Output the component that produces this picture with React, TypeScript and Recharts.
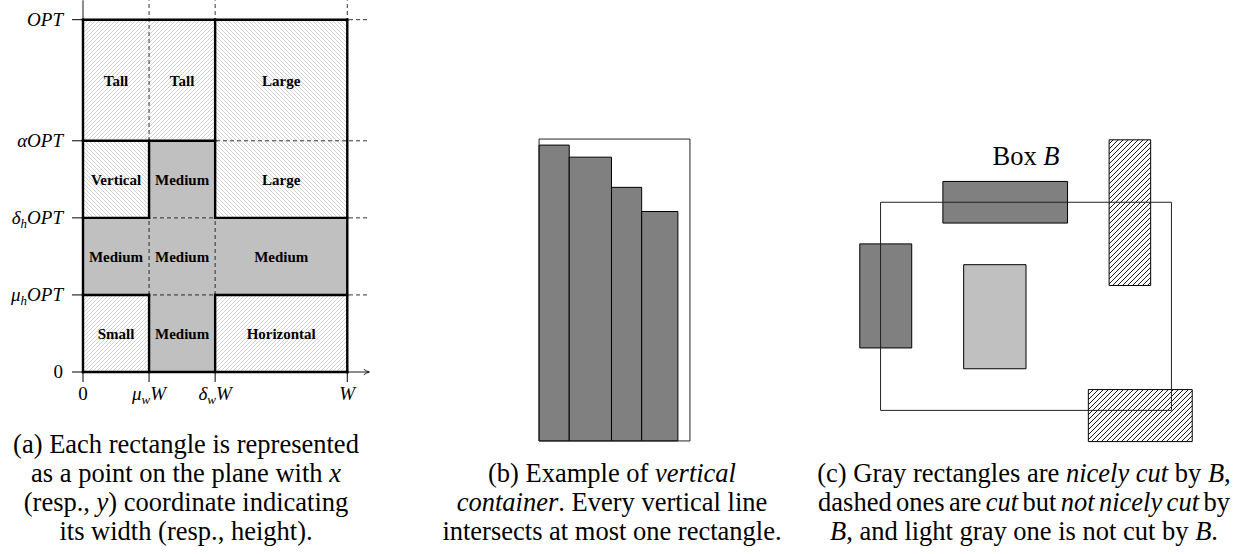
import React from "react";
import {
  ComposedChart,
  XAxis,
  YAxis,
  ReferenceArea,
  ReferenceLine,
  ReferenceDot,
} from "recharts";

const FONT = '"Liberation Serif", "Times New Roman", Times, serif';

// (a) widths on x, heights on y
const xTickValues = [0, 1.5, 3, 6];
const xTickLabels = [
  { main: "0", upright: true },
  { main: "μ", sub: "w", tail: "W" },
  { main: "δ", sub: "w", tail: "W" },
  { main: "W" },
];
const yTickValues = [0, 1.75, 3.5, 5.25, 8];
const yTickLabels = [
  { main: "0", upright: true },
  { main: "μ", sub: "h", tail: "OPT" },
  { main: "δ", sub: "h", tail: "OPT" },
  { main: "αOPT" },
  { main: "OPT" },
];

const HATCH_FWD = "url(#hatchFwd)";
const HATCH_BACK = "url(#hatchBack)";
const MEDIUM = "#c0c0c0";

const planeCells = [
  { name: "Tall", x1: 0, x2: 1.5, y1: 5.25, y2: 8, fill: HATCH_FWD },
  { name: "Tall", x1: 1.5, x2: 3, y1: 5.25, y2: 8, fill: HATCH_FWD },
  { name: "Large", x1: 3, x2: 6, y1: 5.25, y2: 8, fill: HATCH_BACK },
  { name: "Vertical", x1: 0, x2: 1.5, y1: 3.5, y2: 5.25, fill: HATCH_BACK },
  { name: "Medium", x1: 1.5, x2: 3, y1: 3.5, y2: 5.25, fill: MEDIUM },
  { name: "Large", x1: 3, x2: 6, y1: 3.5, y2: 5.25, fill: HATCH_BACK },
  { name: "Medium", x1: 0, x2: 1.5, y1: 1.75, y2: 3.5, fill: MEDIUM },
  { name: "Medium", x1: 1.5, x2: 3, y1: 1.75, y2: 3.5, fill: MEDIUM },
  { name: "Medium", x1: 3, x2: 6, y1: 1.75, y2: 3.5, fill: MEDIUM },
  { name: "Small", x1: 0, x2: 1.5, y1: 0, y2: 1.75, fill: HATCH_FWD },
  { name: "Medium", x1: 1.5, x2: 3, y1: 0, y2: 1.75, fill: MEDIUM },
  { name: "Horizontal", x1: 3, x2: 6, y1: 0, y2: 1.75, fill: HATCH_FWD },
];

// borders between the classes, [x1, y1, x2, y2]
const thickEdges = [
  [0, 0, 6, 0],
  [6, 0, 6, 8],
  [0, 8, 6, 8],
  [0, 0, 0, 8],
  [3, 3.5, 3, 8],
  [0, 5.25, 3, 5.25],
  [1.5, 3.5, 1.5, 5.25],
  [0, 3.5, 1.5, 3.5],
  [3, 3.5, 6, 3.5],
  [0, 1.75, 1.5, 1.75],
  [3, 1.75, 6, 1.75],
  [1.5, 0, 1.5, 1.75],
  [3, 0, 3, 1.75],
];
const dashedX = [1.5, 3, 6];
const dashedY = [1.75, 3.5, 5.25, 8];

// (b) vertical container
const containerSize = { w: 5, h: 10 };
const binEdges = [0, 1, 2.4, 3.4, 4.6];
const binHeights = [9.8, 9.4, 8.4, 7.6];

// (c) box B and the rectangles around it
const boxB = { x1: 0, x2: 7, y1: 0, y2: 5 };
const nicelyCut = [
  { x1: 1.5, x2: 4.5, y1: 4.5, y2: 5.5 },
  { x1: -0.5, x2: 0.75, y1: 1.5, y2: 4 },
];
const cutNotNice = [
  { x1: 5.5, x2: 6.5, y1: 3, y2: 6.5 },
  { x1: 5, x2: 7.5, y1: -0.75, y2: 0.5 },
];
const notCut = [{ x1: 2, x2: 3.5, y1: 1, y2: 3.5 }];

type Lab = { main: string; sub?: string; tail?: string; upright?: boolean };

function MathText({ x, y, lab, anchor }: { x: number; y: number; lab: Lab; anchor: string }) {
  return (
    <text x={x} y={y} textAnchor={anchor} fontFamily={FONT} fontSize={19} fill="#000">
      <tspan fontStyle={lab.upright ? "normal" : "italic"}>{lab.main}</tspan>
      {lab.sub && (
        <tspan fontStyle="italic" fontSize={13} dy={4}>
          {lab.sub}
        </tspan>
      )}
      {lab.tail && (
        <tspan fontStyle="italic" dy={lab.sub ? -4 : 0}>
          {lab.tail}
        </tspan>
      )}
    </text>
  );
}

function XTick(props: any) {
  const i = xTickValues.indexOf(props.payload.value);
  if (i < 0) return null;
  return <MathText x={props.x} y={props.y + 18} lab={xTickLabels[i]} anchor="middle" />;
}

function YTick(props: any) {
  const i = yTickValues.indexOf(props.payload.value);
  if (i < 0) return null;
  return <MathText x={props.x} y={props.y + 6} lab={yTickLabels[i]} anchor="end" />;
}

function PlaneChart() {
  return (
    <ComposedChart
      width={380}
      height={420}
      margin={{ top: 0, right: 1, bottom: 0, left: 0 }}
    >
      <XAxis
        type="number"
        dataKey="x"
        domain={[0, 6.72]}
        allowDataOverflow
        ticks={xTickValues}
        interval={0}
        height={48}
        axisLine={false}
        tickLine={{ stroke: "#000" }}
        tickSize={10}
        tickMargin={0}
        tick={<XTick />}
      />
      <YAxis
        type="number"
        dataKey="y"
        domain={[0, 8.447]}
        allowDataOverflow
        ticks={yTickValues}
        interval={0}
        width={83}
        axisLine={false}
        tickLine={{ stroke: "#000" }}
        tickSize={11}
        tickMargin={9}
        tick={<YTick />}
      />
      {planeCells.map((c, i) => (
        <ReferenceArea
          key={"cell" + i}
          x1={c.x1}
          x2={c.x2}
          y1={c.y1}
          y2={c.y2}
          fill={c.fill}
          fillOpacity={1}
          stroke="none"
          label={{
            value: c.name,
            position: "center",
            fill: "#000",
            fontSize: 15,
            fontWeight: "bold",
            fontFamily: FONT,
          }}
        />
      ))}
      {dashedX.map((v) => (
        <ReferenceLine
          key={"dx" + v}
          segment={[
            { x: v, y: 0 },
            { x: v, y: 8.44 },
          ]}
          stroke="#000"
          strokeWidth={0.8}
          strokeDasharray="4 3"
        />
      ))}
      {dashedY.map((v) => (
        <ReferenceLine
          key={"dy" + v}
          segment={[
            { x: 0, y: v },
            { x: 6.47, y: v },
          ]}
          stroke="#000"
          strokeWidth={0.8}
          strokeDasharray="4 3"
        />
      ))}
      <ReferenceLine
        segment={[
          { x: 0, y: 0 },
          { x: 0, y: 8.44 },
        ]}
        stroke="#000"
        strokeWidth={0.9}
      />
      <ReferenceLine
        segment={[
          { x: 0, y: 0 },
          { x: 6.5, y: 0 },
        ]}
        shape={(p: any) => (
          <line
            x1={p.x1}
            y1={p.y1}
            x2={p.x2}
            y2={p.y2}
            stroke="#000"
            strokeWidth={0.9}
            markerEnd="url(#axisArrow)"
          />
        )}
      />
      {thickEdges.map((e, i) => (
        <ReferenceLine
          key={"edge" + i}
          segment={[
            { x: e[0], y: e[1] },
            { x: e[2], y: e[3] },
          ]}
          stroke="#000"
          strokeWidth={2.4}
          strokeLinecap="square"
        />
      ))}
    </ComposedChart>
  );
}

function ContainerChart() {
  return (
    <ComposedChart width={169} height={320} margin={{ top: 0, right: 0, bottom: 0, left: 0 }}>
      <XAxis type="number" dataKey="x" hide domain={[-0.3, 5.3]} allowDataOverflow />
      <YAxis type="number" dataKey="y" hide domain={[-0.3, 10.3]} allowDataOverflow />
      {binHeights.map((h, i) => (
        <ReferenceArea
          key={"bin" + i}
          x1={binEdges[i]}
          x2={binEdges[i + 1]}
          y1={0}
          y2={h}
          fill="#808080"
          fillOpacity={1}
          stroke="#000"
          strokeWidth={1}
        />
      ))}
      <ReferenceArea
        x1={0}
        x2={containerSize.w}
        y1={0}
        y2={containerSize.h}
        fill="none"
        stroke="#222"
        strokeWidth={1}
      />
    </ComposedChart>
  );
}

function BoxChart() {
  return (
    <ComposedChart width={374} height={333} margin={{ top: 0, right: 0, bottom: 0, left: 0 }}>
      <XAxis type="number" dataKey="x" hide domain={[-1, 8]} allowDataOverflow />
      <YAxis type="number" dataKey="y" hide domain={[-1, 7]} allowDataOverflow />
      {nicelyCut.map((r, i) => (
        <ReferenceArea key={"nc" + i} {...r} fill="#808080" fillOpacity={1} stroke="#000" strokeWidth={1} />
      ))}
      {cutNotNice.map((r, i) => (
        <ReferenceArea key={"cn" + i} {...r} fill="url(#hatchDense)" fillOpacity={1} stroke="#000" strokeWidth={1} />
      ))}
      {notCut.map((r, i) => (
        <ReferenceArea key={"u" + i} {...r} fill="#c0c0c0" fillOpacity={1} stroke="#000" strokeWidth={1} />
      ))}
      <ReferenceArea {...boxB} fill="none" stroke="#222" strokeWidth={1} />
      <ReferenceDot
        x={3.5}
        y={6}
        r={0}
        shape={(p: any) => (
          <text x={p.cx} y={p.cy + 4} textAnchor="middle" fontFamily={FONT} fontSize={26.5} fill="#000">
            Box <tspan fontStyle="italic">B</tspan>
          </text>
        )}
      />
    </ComposedChart>
  );
}

const captionStyle: React.CSSProperties = {
  position: "absolute",
  textAlign: "center",
  fontFamily: FONT,
  fontSize: 26.5,
  lineHeight: "29px",
  color: "#000",
  whiteSpace: "nowrap",
};

export default function App() {
  return (
    <div
      style={{
        position: "absolute",
        left: 0,
        top: 0,
        width: 1252,
        height: 554,
        background: "#fff",
        overflow: "hidden",
        fontFamily: FONT,
      }}
    >
      <svg width={0} height={0} style={{ position: "absolute" }}>
        <defs>
          <pattern id="hatchFwd" width={4} height={4} patternUnits="userSpaceOnUse">
            <path d="M-1,1 l2,-2 M0,4 l4,-4 M3,5 l2,-2" stroke="#b4b4b4" strokeWidth={0.6} />
          </pattern>
          <pattern id="hatchBack" width={4} height={4} patternUnits="userSpaceOnUse">
            <path d="M-1,3 l2,2 M0,0 l4,4 M3,-1 l2,2" stroke="#b4b4b4" strokeWidth={0.6} />
          </pattern>
          <pattern id="hatchDense" width={5} height={5} patternUnits="userSpaceOnUse">
            <path d="M-1,1 l2,-2 M0,5 l5,-5 M4,6 l2,-2" stroke="#000" strokeWidth={0.9} />
          </pattern>
          <marker
            id="axisArrow"
            viewBox="0 0 10 10"
            refX={9}
            refY={5}
            markerWidth={7}
            markerHeight={7}
            markerUnits="userSpaceOnUse"
            orient="auto"
          >
            <path d="M1,1 Q5,4 9,5 Q5,6 1,9" fill="none" stroke="#000" strokeWidth={1.2} />
          </marker>
        </defs>
      </svg>

      <div style={{ position: "absolute", left: 0, top: 0 }}>
        <PlaneChart />
      </div>
      <div style={{ position: "absolute", left: 530, top: 130 }}>
        <ContainerChart />
      </div>
      <div style={{ position: "absolute", left: 839, top: 119 }}>
        <BoxChart />
      </div>

      <div style={{ ...captionStyle, left: -14, width: 400, top: 429.5 }}>
        (a) Each rectangle is represented
        <br />
        as a point on the plane with <i>x</i>
        <br />
        (resp., <i>y</i>) coordinate indicating
        <br />
        its width (resp., height).
      </div>
      <div style={{ ...captionStyle, left: 402, width: 420, top: 458.5 }}>
        (b) Example of <i>vertical</i>
        <br />
        <i>container</i>. Every vertical line
        <br />
        intersects at most one rectangle.
      </div>
      <div style={{ ...captionStyle, left: 804, width: 440, top: 458.5 }}>
        (c) Gray rectangles are <i>nicely cut</i> by <i>B</i>,
        <br />
        <span style={{ wordSpacing: "-2.25px" }}>
          dashed ones are <i>cut</i> but <i>not nicely cut</i> by
        </span>
        <br />
        <i>B</i>, and light gray one is not cut by <i>B</i>.
      </div>
    </div>
  );
}
